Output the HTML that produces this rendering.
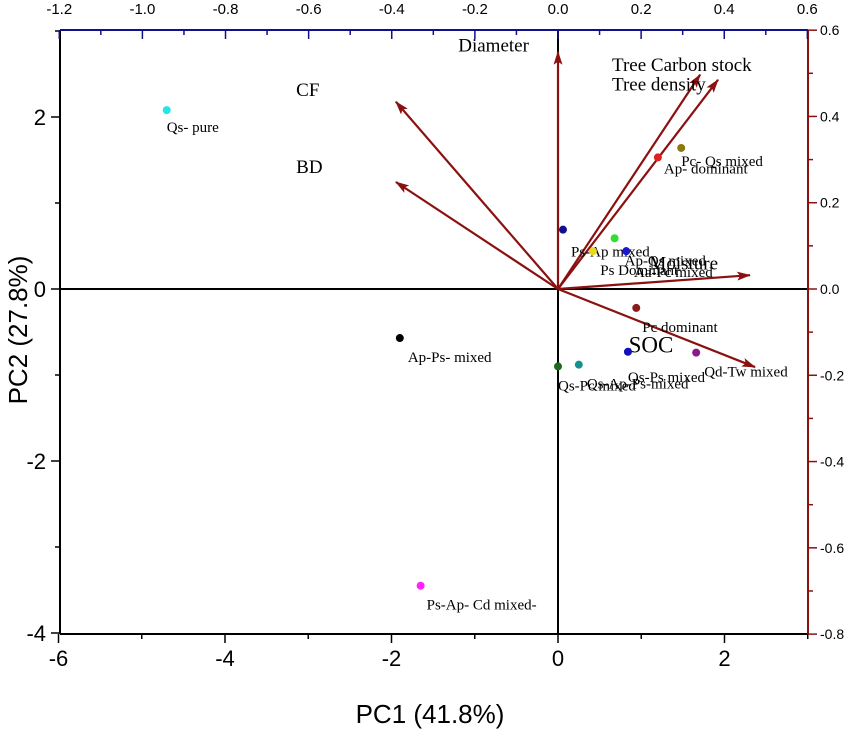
<!DOCTYPE html>
<html><head><meta charset="utf-8"><style>
html,body{margin:0;padding:0;background:#fff}
svg{display:block}
text{font-family:"Liberation Serif",serif}
.sans{font-family:"Liberation Sans",sans-serif}
</style></head><body>
<svg id="c" width="850" height="731" viewBox="0 0 850 731" xmlns="http://www.w3.org/2000/svg"></svg>
<script>
const xTicks=[-6,-4,-2,0,2];
const yTicks=[-4,-2,0,2];
const topTicks=[-1.2,-1.0,-0.8,-0.6,-0.4,-0.2,0.0,0.2,0.4,0.6];
const rightTicks=[0.6,0.4,0.2,0.0,-0.2,-0.4,-0.6,-0.8];
const siteX=[-4.70,-1.90,-1.65,0.00,0.25,0.84,1.66,0.94,0.06,0.68,0.82,1.20,1.48,0.42];
const siteY=[2.08,-0.57,-3.45,-0.90,-0.88,-0.73,-0.74,-0.22,0.69,0.59,0.44,1.53,1.64,0.44];
const siteColors=["#22e6e6","#000","#ff22ff","#1a6b1a","#189090","#1010c0","#8a1a8a","#8b1a1a","#10108a","#33dd33","#1818cc","#e02020","#8a7a10","#e8d820"];
const labelDX=[0,8,6,0,8,0,8,6,8,10,-26,6,0,0];
const labelDY=[22,24,24,24,24,30,24,24,27,27,24,16,18,0];
const labelText=["Qs- pure","Ap-Ps- mixed","Ps-Ap- Cd mixed-","Qs-Pc mixed","Qs-Ap-Ps-mixed","Qs-Ps mixed","Qd-Tw mixed","Pc dominant","Ps-Ap mixed","Ap-Qs mixed","Ps Dominant","Ap- dominant","Pc- Qs mixed",""];
const varNames=["Diameter","CF","BD","Tree Carbon stock","Tree density","Moisture","SOC"];
const loadX=[0.0,-0.39,-0.39,0.342,0.385,0.462,0.474];
const loadY=[0.55,0.434,0.248,0.497,0.485,0.032,-0.181];
const varLabelX=[-0.24,-0.63,-0.63,0.13,0.13,0.22,0.17];
const varLabelY=[0.551,0.447,0.269,0.505,0.46,0.045,-0.147];

const svg=document.getElementById('c');
const NS='http://www.w3.org/2000/svg';
const L=60,R=808,T=30,B=634;
const sx=v=>558+v*83.25, sy=v=>289-v*86;
const lx=v=>558+v*415.6, ly=v=>289-v*431.4;
const DR='#8b1111';
function el(tag,attrs,txt){const e=document.createElementNS(NS,tag);for(const k in attrs)e.setAttribute(k,attrs[k]);if(txt!==undefined)e.textContent=txt;svg.appendChild(e);return e;}

const defs=el('defs',{});
const mk=document.createElementNS(NS,'marker');
mk.setAttribute('id','ah');mk.setAttribute('markerWidth','14');mk.setAttribute('markerHeight','9');mk.setAttribute('refX','13');mk.setAttribute('refY','4.5');mk.setAttribute('orient','auto');mk.setAttribute('markerUnits','userSpaceOnUse');
const mp=document.createElementNS(NS,'path');mp.setAttribute('d','M0,0 L14,4.5 L0,9 L3,4.5 Z');mp.setAttribute('fill',DR);mk.appendChild(mp);defs.appendChild(mk);

let e=el('line',{x1:L,x2:R,y1:sy(0),y2:sy(0),stroke:'#000','stroke-width':2});

e=el('line',{x1:sx(0),x2:sx(0),y1:T,y2:B,stroke:'#000','stroke-width':2});


e=el('line',{x1:L,x2:L,y1:T,y2:B,stroke:'#000','stroke-width':2});

e=el('line',{x1:L,x2:R,y1:B,y2:B,stroke:'#000','stroke-width':2});

e=el('line',{x1:L,x2:R,y1:T,y2:T,stroke:'#10108a','stroke-width':2});

e=el('line',{x1:R,x2:R,y1:T,y2:B,stroke:DR,'stroke-width':2});


xTicks.forEach(v=>{
  el('line',{x1:sx(v),x2:sx(v),y1:B,y2:B+9,stroke:'#000','stroke-width':1.5});
  el('line',{x1:sx(v+1),x2:sx(v+1),y1:B,y2:B+5,stroke:'#000','stroke-width':1.5});
  const t=el('text',{x:sx(v),y:B+32,'text-anchor':'middle','font-size':22,class:'sans'},String(v));
  
});
yTicks.forEach(v=>{
  el('line',{x1:L,x2:L-9,y1:sy(v),y2:sy(v),stroke:'#000','stroke-width':1.5});
  el('line',{x1:L,x2:L-5,y1:sy(v+1),y2:sy(v+1),stroke:'#000','stroke-width':1.5});
  const t=el('text',{x:L-14,y:sy(v)+8,'text-anchor':'end','font-size':22,class:'sans'},String(v));
  
});
topTicks.forEach(v=>{
  el('line',{x1:lx(v),x2:lx(v),y1:T,y2:T+9,stroke:'#10108a','stroke-width':1.5});
  if(v<0.6) el('line',{x1:lx(v+0.1),x2:lx(v+0.1),y1:T,y2:T+5,stroke:'#10108a','stroke-width':1.5});
  const t=el('text',{x:lx(v),y:14,'text-anchor':'middle','font-size':15,class:'sans'},v.toFixed(1));
  
});
rightTicks.forEach(v=>{
  el('line',{x1:R,x2:R+9,y1:ly(v),y2:ly(v),stroke:DR,'stroke-width':1.5});
  if(v>-0.8) el('line',{x1:R,x2:R+5,y1:ly(v-0.1),y2:ly(v-0.1),stroke:DR,'stroke-width':1.5});
  const t=el('text',{x:R+12,y:ly(v)+5,'font-size':14,class:'sans'},v.toFixed(1));
  
});

loadX.forEach((v,i)=>{
  const a=el('line',{x1:sx(0),y1:sy(0),x2:lx(v),y2:ly(loadY[i]),stroke:DR,'stroke-width':2.2,'marker-end':'url(#ah)'});
  
  const t=el('text',{x:lx(varLabelX[i]),y:ly(varLabelY[i]),'font-size':i===6?23:19},varNames[i]);
  
});

siteX.forEach((v,i)=>{
  const c=el('circle',{cx:sx(v),cy:sy(siteY[i]),r:4,fill:siteColors[i]});
  
  if(labelText[i]){
    const t=el('text',{x:sx(v)+labelDX[i],y:sy(siteY[i])+labelDY[i],'font-size':15},labelText[i]);
    
  }
});
e=el('text',{x:634,y:277,'font-size':15},'Aa-Pc mixed');


e=el('text',{x:430,y:723,'text-anchor':'middle','font-size':26,class:'sans'},'PC1 (41.8%)');

e=el('text',{x:0,y:0,'text-anchor':'middle','font-size':26,class:'sans',transform:'translate(27,330) rotate(-90)'},'PC2 (27.8%)');

</script>
</body></html>
